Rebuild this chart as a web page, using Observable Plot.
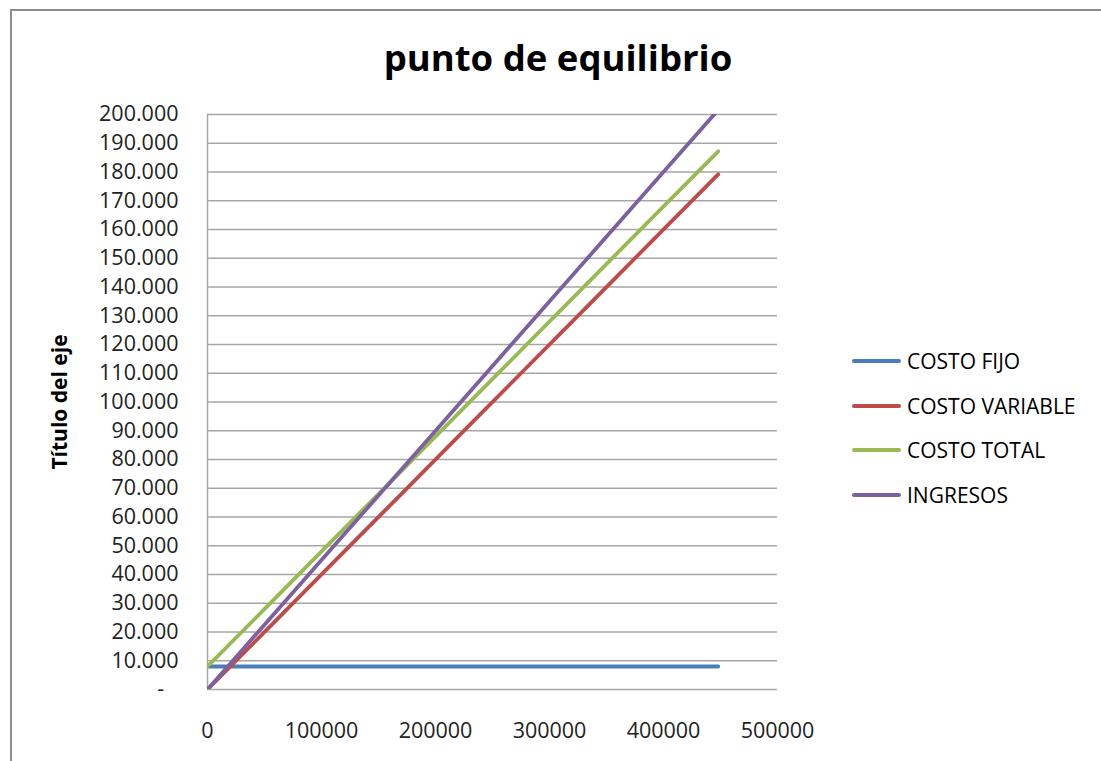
<!DOCTYPE html>
<html>
<head>
<meta charset="utf-8">
<script src="https://cdn.jsdelivr.net/npm/d3@7"></script>
<script src="https://cdn.jsdelivr.net/npm/@observablehq/plot@0.6"></script>
<style>
  html, body { margin: 0; padding: 0; background: #fff; }
  #wrap { position: relative; width: 1101px; height: 761px; overflow: hidden; font-family: "Open Sans", sans-serif; }
  #frame { position: absolute; left: 10px; top: 9px; width: 1200px; height: 900px; border: 2px solid #8c8c8c; box-sizing: border-box; }
  #title { position: absolute; left: 0; width: 1116px; top: 36px; text-align: center; font-size: 36.5px; font-weight: bold; color: #000; line-height: 1.2; }
  #ytitle { position: absolute; left: 59px; top: 402px; transform: translate(-50%, -50%) rotate(-90deg); font-size: 21px; font-weight: bold; white-space: nowrap; color: #000; }
  #legend { position: absolute; left: 852px; top: 339px; }
  .item { display: flex; align-items: center; height: 44.5px; font-size: 21px; color: #000; }
  .sw { width: 49px; height: 4px; border-radius: 2px; margin-right: 6px; }
  #chart { position: absolute; left: 0; top: 0; }
</style>
</head>
<body>
<div id="wrap">
  <div id="frame"></div>
  <div id="chart"></div>
  <div id="title">punto de equilibrio</div>
  <div id="ytitle">Título del eje</div>
  <div id="legend"></div>
</div>
<script>
const series = ["COSTO FIJO", "COSTO VARIABLE", "COSTO TOTAL", "INGRESOS"];
const colors = ["#4a7ebb", "#be4b48", "#98b954", "#7d60a0"];
const units = [0, 56000, 112000, 168000, 224000, 280000, 336000, 392000, 448000];
const costoFijo = [8000, 8000, 8000, 8000, 8000, 8000, 8000, 8000, 8000];
const costoVariable = [0, 22400, 44800, 67200, 89600, 112000, 134400, 156800, 179200];
const costoTotal = [8000, 30400, 52800, 75200, 97600, 120000, 142400, 164800, 187200];
const ingresos = [0, 25200, 50400, 75600, 100800, 126000, 151200, 176400, 201600];
const xTicks = [0, 100000, 200000, 300000, 400000, 500000];
const yTicks = [0, 10000, 20000, 30000, 40000, 50000, 60000, 70000, 80000, 90000, 100000,
  110000, 120000, 130000, 140000, 150000, 160000, 170000, 180000, 190000, 200000];

const valuesBySeries = [costoFijo, costoVariable, costoTotal, ingresos];
const rows = [];
series.forEach((s, i) => units.forEach((u, j) => rows.push({serie: s, x: u, y: valuesBySeries[i][j]})));

const fmtY = d => d === 0 ? "-\u2002\u2009" : d3.format(",")(d).replace(/,/g, ".");

const chart = Plot.plot({
  width: 1101,
  height: 761,
  marginLeft: 207,
  marginRight: 324,
  marginTop: 114,
  marginBottom: 72,
  style: {fontFamily: "Open Sans, sans-serif", fontSize: "21.5px", color: "#000", background: "transparent"},
  x: {domain: [0, 500000], ticks: xTicks},
  y: {domain: [0, 200000], ticks: yTicks},
  color: {domain: series, range: colors},
  marks: [
    Plot.ruleY(yTicks, {stroke: "#a6a6a6", strokeWidth: 1.5}),
    Plot.ruleX([0], {stroke: "#a6a6a6", strokeWidth: 1.5}),
    Plot.line(rows, {x: "x", y: "y", z: "serie", stroke: "serie", strokeWidth: 3.8, clip: true, strokeLinecap: "round"}),
    Plot.axisY(yTicks, {tickSize: 0, tickPadding: 29, tickFormat: fmtY, label: null, fill: "#222"}),
    Plot.axisX(xTicks, {tickSize: 0, tickPadding: 33, tickFormat: d => String(d), label: null, fill: "#222"})
  ]
});
document.getElementById("chart").appendChild(chart);

const legend = document.getElementById("legend");
series.forEach((s, i) => {
  const it = document.createElement("div");
  it.className = "item";
  const sw = document.createElement("div");
  sw.className = "sw";
  sw.style.background = colors[i];
  const tx = document.createElement("span");
  tx.textContent = s;
  it.appendChild(sw);
  it.appendChild(tx);
  legend.appendChild(it);
});
</script>
</body>
</html>
